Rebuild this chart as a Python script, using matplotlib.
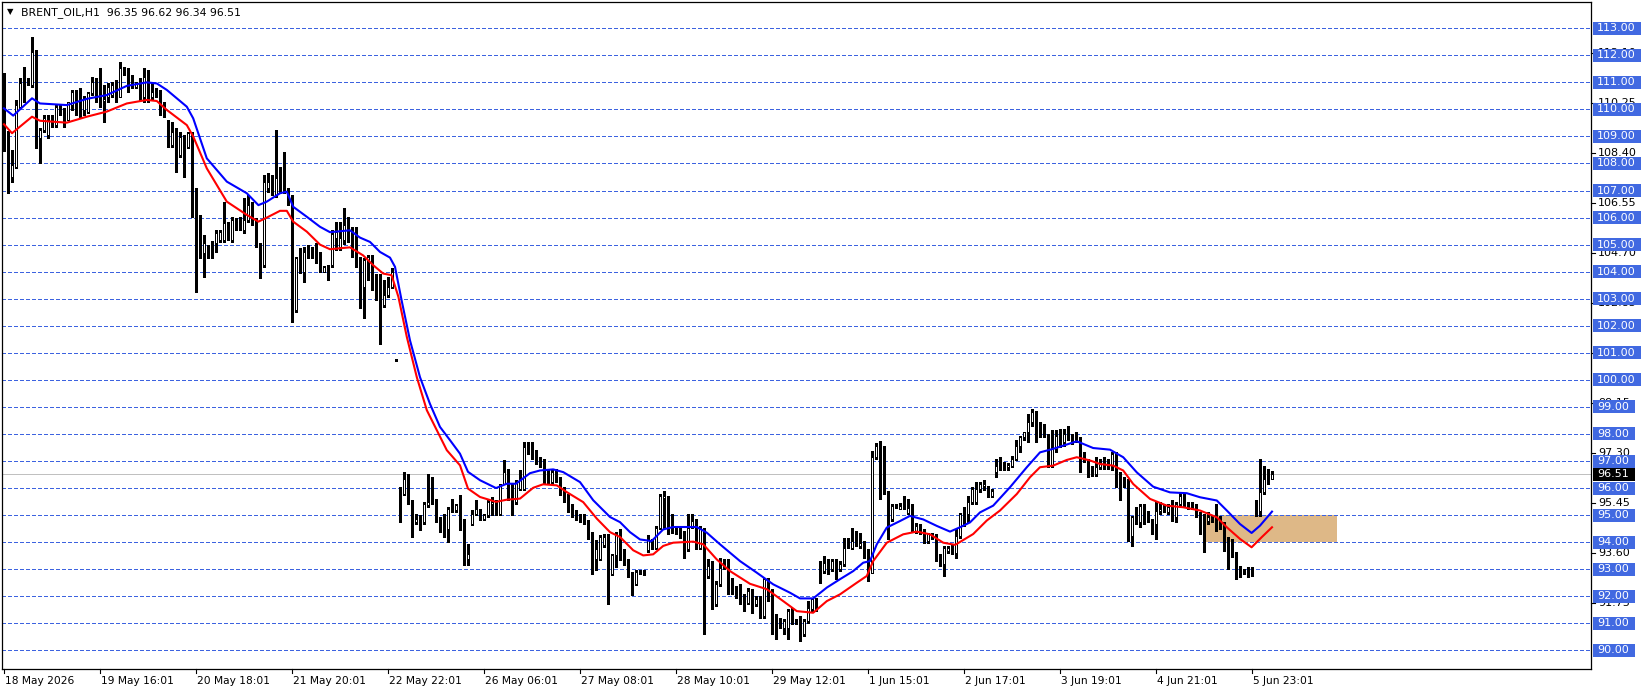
import numpy as np
import matplotlib
matplotlib.use('Agg')
import matplotlib.pyplot as plt
from matplotlib.patches import Rectangle
from matplotlib.transforms import blended_transform_factory

# hourly candles (bar 0 = 18 May 2026)
opens = [
    110.5, 109.1, 107.51, 107.88, 110.1, 110.97, 111.0, 110.9, 112.16, 108.93,
    109.24, 109.05, 109.6, 109.42, 110.1, 109.98, 109.61, 110.16, 110.66, 110.35,
    109.98, 109.92, 110.6, 110.97, 110.72, 110.3, 110.47, 110.53, 110.78, 110.47,
    111.52, 111.4, 110.9, 110.84, 111.03, 110.47, 111.21, 110.47, 110.6, 110.6,
    109.92, 109.55, 108.68, 109.24, 108.31, 108.99, 108.62, 109.12, 106.83, 105.54,
    104.68, 104.99, 105.11, 105.05, 105.17, 105.17, 105.79, 105.17, 105.91, 105.79,
    105.54, 105.91, 106.28, 105.91, 104.99, 104.25, 107.08, 107.39, 106.83, 107.7,
    107.7, 107.02, 106.77, 102.58, 104.49, 104.0, 104.92, 104.86, 104.62, 104.37,
    104.0, 104.2, 104.24, 105.23, 104.92, 105.16, 105.78, 105.35, 105.53, 104.49,
    103.44, 104.42, 104.55, 103.75, 103.07, 102.76, 103.13, 103.44, 100.75, 95.79,
    95.79, 96.41, 95.48, 94.74, 94.87, 94.74, 95.36, 95.48, 95.48, 94.87,
    94.68, 94.5, 95.24, 95.18, 95.36, 94.81, 93.39, 94.68, 95.05, 95.24,
    94.87, 94.99, 95.42, 95.48, 95.05, 96.16, 96.59, 96.16, 95.48, 95.98,
    95.98, 97.52, 97.33, 97.21, 96.96, 96.9, 96.59, 96.22, 96.59, 96.35,
    95.98, 95.73, 95.36, 95.05, 94.99, 94.93, 94.74, 94.31, 93.39, 93.39,
    93.88, 94.25, 92.83, 93.51, 94.31, 93.7, 93.33, 92.77, 92.46, 92.9,
    92.96, 93.7, 93.98, 93.8, 94.54, 95.65, 95.65, 94.97, 94.47, 94.35,
    94.35, 93.73, 94.6, 94.78, 93.8, 94.47, 92.75, 93.24, 91.7, 92.44,
    93.3, 93.3, 92.38, 92.19, 92.16, 91.82, 91.76, 92.19, 91.7, 91.89,
    91.27, 92.63, 91.95, 91.21, 91.08, 90.84, 90.84, 91.45, 91.08, 91.08,
    90.59, 91.08, 91.52, 91.89, 93.0, 92.93, 93.3, 93.0, 93.3, 93.0,
    93.18, 93.82, 93.8, 93.98, 93.86, 93.92, 93.55, 92.87, 97.13, 97.56,
    96.76, 95.83, 94.84, 95.34, 95.21, 95.4, 95.09, 95.21, 94.41, 94.6,
    94.35, 94.04, 94.29, 94.23, 93.49, 93.18, 93.67, 93.8, 93.61, 94.23,
    95.03, 95.04, 95.47, 95.5, 95.97, 96.09, 96.03, 95.72, 96.58, 96.83,
    96.86, 96.77, 96.83, 97.08, 97.57, 97.88, 98.06, 98.43, 98.8, 98.19,
    97.96, 97.94, 96.83, 97.45, 98.0, 97.69, 97.94, 97.94, 97.94, 97.82,
    97.2, 96.95, 96.77, 96.52, 96.77, 96.89, 96.86, 96.83, 97.26, 96.52,
    96.28, 96.28, 94.24, 94.92, 94.73, 95.35, 95.04, 94.8, 94.67, 95.17,
    95.29, 95.1, 95.29, 94.92, 95.41, 95.72, 95.41, 95.29, 95.29, 95.04,
    94.92, 94.8, 94.92, 94.92, 94.92, 94.67, 94.12, 93.81, 93.56, 93.07,
    92.95, 93.01, 93.01, 95.47, 95.17, 95.84, 96.34, 96.35,
]
highs = [
    111.35, 109.2, 108.5, 110.35, 111.15, 111.58, 111.15, 112.69, 112.2, 109.3,
    109.79, 109.8, 109.79, 110.16, 110.16, 110.04, 110.29, 110.72, 110.72, 110.78,
    110.5, 110.66, 111.21, 111.15, 111.52, 110.9, 110.97, 111.0, 111.09, 111.77,
    111.58, 111.52, 111.27, 111.03, 111.15, 111.52, 111.46, 110.97, 110.78, 110.72,
    110.29, 109.61, 109.55, 109.3, 109.18, 109.05, 109.18, 109.18, 107.08, 106.1,
    105.36, 105.0, 105.15, 105.54, 105.55, 106.59, 105.85, 106.03, 105.97, 106.03,
    106.71, 106.83, 106.59, 105.97, 105.05, 107.57, 107.64, 107.57, 109.24, 107.88,
    108.44, 107.08, 106.83, 104.55, 104.86, 104.92, 104.99, 104.92, 105.05, 104.74,
    104.2, 104.25, 105.53, 105.84, 105.84, 106.34, 106.03, 105.66, 105.66, 104.55,
    104.5, 104.61, 104.61, 103.93, 103.93, 103.68, 103.81, 104.12, 100.78, 96.04,
    96.59, 96.53, 95.55, 95.05, 94.99, 95.48, 96.53, 96.41, 95.61, 94.93,
    95.05, 95.3, 95.61, 95.42, 95.73, 94.87, 93.94, 95.18, 95.55, 95.24,
    95.05, 95.55, 95.67, 95.55, 96.16, 97.03, 96.72, 96.16, 96.29, 96.66,
    97.7, 97.7, 97.7, 97.4, 97.15, 97.09, 96.66, 96.66, 96.72, 96.41,
    96.04, 95.79, 95.42, 95.18, 95.05, 95.05, 94.81, 94.37, 94.07, 94.25,
    94.31, 94.31, 93.57, 94.37, 94.5, 93.76, 93.39, 92.9, 92.96, 92.96,
    92.96, 94.25, 94.1, 94.6, 95.77, 95.89, 95.71, 95.03, 94.54, 94.54,
    94.41, 95.03, 95.03, 94.84, 94.6, 94.54, 93.36, 93.3, 92.56, 93.43,
    93.36, 93.36, 92.69, 92.38, 92.44, 92.07, 92.32, 92.26, 92.01, 92.01,
    92.69, 92.69, 92.26, 91.33, 91.21, 91.15, 91.52, 91.58, 91.15, 91.27,
    91.15, 91.82, 91.95, 91.95, 93.3, 93.49, 93.36, 93.36, 93.36, 93.3,
    94.17, 94.17, 94.54, 94.41, 94.35, 94.04, 93.73, 97.37, 97.68, 97.74,
    97.56, 95.89, 95.4, 95.4, 95.46, 95.71, 95.58, 95.4, 94.72, 94.66,
    94.47, 94.35, 94.35, 94.29, 93.55, 93.86, 93.86, 93.92, 94.47, 95.09,
    95.3, 95.72, 96.03, 96.21, 96.21, 96.28, 96.09, 95.97, 97.08, 97.14,
    96.95, 96.92, 97.2, 97.76, 97.94, 98.06, 98.74, 98.93, 98.86, 98.43,
    98.37, 98.0, 98.13, 98.13, 98.19, 98.19, 98.31, 98.0, 98.06, 97.88,
    97.32, 97.08, 96.83, 97.14, 97.08, 97.14, 97.08, 97.32, 97.32, 96.58,
    96.4, 96.34, 94.98, 95.29, 95.41, 95.41, 95.17, 94.86, 95.47, 95.47,
    95.41, 95.41, 95.54, 95.47, 95.84, 95.78, 95.47, 95.47, 95.41, 95.1,
    95.04, 95.1, 94.98, 95.41, 94.98, 94.73, 94.18, 94.12, 93.63, 93.13,
    93.01, 93.07, 93.07, 95.54, 97.08, 96.83, 96.71, 96.62,
]
lows = [
    108.45, 106.9, 107.33, 107.82, 110.04, 110.29, 110.9, 110.84, 108.56, 108.01,
    109.18, 108.95, 109.36, 109.36, 109.8, 109.36, 109.61, 109.98, 109.79, 109.73,
    109.79, 109.86, 110.53, 110.29, 110.1, 109.55, 110.29, 110.47, 110.29, 110.47,
    111.27, 110.66, 110.78, 110.78, 110.35, 110.29, 110.29, 110.35, 110.47, 109.79,
    109.73, 108.62, 108.62, 107.7, 108.25, 107.51, 108.56, 106.03, 103.26, 104.49,
    103.81, 104.49, 104.49, 104.74, 105.1, 105.11, 105.17, 105.11, 105.54, 105.54,
    105.42, 105.85, 105.72, 104.92, 103.75, 104.18, 106.96, 106.83, 106.77, 106.9,
    106.9, 106.46, 102.15, 102.52, 103.94, 103.63, 104.5, 104.5, 104.31, 104.0,
    104.0, 103.69, 104.18, 104.79, 104.79, 105.04, 105.1, 104.55, 104.18, 102.64,
    102.27, 103.68, 103.31, 102.94, 101.34, 102.7, 103.07, 103.38, 100.7, 94.74,
    95.73, 95.42, 94.19, 94.68, 94.44, 94.68, 95.3, 95.42, 94.74, 94.37,
    94.19, 94.0, 95.11, 95.11, 94.44, 93.14, 93.14, 94.62, 94.99, 94.81,
    94.81, 94.93, 94.99, 94.99, 94.99, 96.16, 95.55, 94.99, 95.42, 95.92,
    95.92, 97.27, 97.09, 96.9, 96.78, 96.16, 96.16, 96.16, 96.22, 95.73,
    95.48, 95.11, 94.93, 94.81, 94.74, 94.68, 94.13, 92.83, 92.96, 93.33,
    93.82, 91.72, 92.77, 93.08, 93.33, 93.14, 92.71, 92.03, 92.4, 92.83,
    92.77, 93.64, 93.73, 93.73, 94.47, 94.54, 94.29, 94.35, 94.29, 94.17,
    93.43, 93.67, 94.54, 93.73, 93.73, 90.59, 92.69, 91.52, 91.64, 92.38,
    93.0, 92.07, 92.07, 91.95, 91.7, 91.45, 91.7, 91.39, 91.64, 91.21,
    91.21, 91.82, 90.59, 90.41, 90.84, 90.59, 90.41, 90.96, 90.96, 90.34,
    90.53, 91.02, 91.45, 91.45, 92.5, 92.87, 92.81, 92.93, 92.63, 92.93,
    93.12, 93.8, 93.73, 93.86, 93.8, 93.43, 92.56, 92.87, 97.07, 95.58,
    95.77, 94.1, 94.78, 95.28, 95.21, 95.21, 95.03, 94.41, 94.35, 94.29,
    93.98, 93.98, 94.1, 93.3, 93.12, 92.75, 93.61, 93.55, 93.43, 94.17,
    94.6, 94.73, 95.41, 95.41, 95.84, 95.91, 95.66, 95.66, 96.4, 96.65,
    96.65, 96.65, 96.77, 97.02, 97.32, 97.76, 97.69, 98.31, 97.69, 97.88,
    97.88, 96.77, 96.77, 97.32, 97.51, 97.57, 97.76, 97.63, 97.69, 96.58,
    96.95, 96.4, 96.46, 96.46, 96.71, 96.71, 96.71, 96.65, 96.03, 95.54,
    96.03, 94.06, 93.87, 94.67, 94.55, 94.67, 94.73, 94.3, 94.12, 95.04,
    95.1, 95.04, 94.8, 94.73, 95.35, 95.35, 95.23, 95.23, 94.92, 94.3,
    93.63, 94.67, 94.73, 94.43, 94.49, 93.69, 93.01, 93.44, 92.64, 92.7,
    92.82, 92.7, 92.76, 94.98, 94.98, 95.78, 96.15, 96.34,
]
closes = [
    109.05, 107.5, 107.94, 110.16, 110.97, 111.03, 111.03, 112.14, 108.93, 109.24,
    109.67, 109.61, 109.45, 110.1, 109.86, 109.67, 110.29, 110.66, 110.1, 110.1,
    110.41, 110.6, 111.03, 110.35, 110.16, 110.4, 110.84, 110.9, 110.47, 111.52,
    111.34, 110.72, 110.95, 110.97, 110.41, 111.21, 110.41, 110.66, 110.5, 109.86,
    109.79, 108.68, 109.18, 108.31, 108.99, 108.62, 109.12, 106.83, 105.54, 104.68,
    105.05, 104.55, 104.55, 105.42, 105.48, 105.79, 105.17, 105.91, 105.72, 105.6,
    105.91, 106.46, 105.85, 104.92, 104.25, 107.33, 107.33, 106.9, 107.45, 106.96,
    106.96, 106.59, 102.52, 104.49, 104.0, 104.74, 104.62, 104.62, 104.31, 104.06,
    104.18, 104.22, 105.41, 105.47, 105.23, 105.72, 105.23, 105.23, 104.42, 103.44,
    104.42, 104.55, 103.68, 103.07, 102.76, 103.13, 103.44, 103.99, 100.73, 95.73,
    96.35, 95.48, 94.74, 94.87, 94.74, 95.42, 95.48, 95.45, 94.81, 94.68,
    94.5, 95.24, 95.18, 95.36, 94.81, 93.33, 93.57, 95.05, 95.24, 94.93,
    94.99, 95.48, 95.48, 95.05, 96.16, 96.59, 95.61, 95.55, 96.22, 96.29,
    97.52, 97.33, 97.15, 96.96, 96.84, 96.22, 96.22, 96.59, 96.29, 95.79,
    95.67, 95.36, 95.05, 94.87, 94.87, 94.74, 94.25, 93.39, 93.76, 94.19,
    94.19, 92.77, 93.51, 94.31, 93.39, 93.33, 92.77, 92.4, 92.9, 92.88,
    92.83, 94.07, 93.8, 94.54, 95.71, 95.71, 94.35, 94.41, 94.35, 94.29,
    93.8, 94.54, 94.78, 94.35, 94.47, 92.75, 93.12, 91.7, 92.44, 93.06,
    93.06, 92.13, 92.13, 92.15, 91.76, 91.8, 92.19, 91.45, 91.89, 91.33,
    92.63, 91.95, 91.21, 91.08, 91.02, 91.08, 91.45, 91.02, 91.02, 90.59,
    91.08, 91.58, 91.89, 91.82, 92.87, 93.24, 93.0, 93.3, 93.0, 93.18,
    93.8, 93.86, 94.04, 94.0, 93.98, 93.49, 92.93, 97.13, 97.56, 96.76,
    95.83, 94.84, 95.34, 95.36, 95.34, 95.28, 95.28, 94.47, 94.6, 94.35,
    94.04, 94.29, 94.17, 93.43, 93.18, 93.8, 93.8, 93.61, 94.23, 95.03,
    94.84, 95.47, 95.97, 95.97, 96.15, 96.15, 95.72, 95.88, 96.83, 96.86,
    96.77, 96.86, 97.08, 97.57, 97.88, 98.06, 98.43, 98.8, 98.19, 97.94,
    97.9, 96.83, 97.45, 97.94, 97.57, 98.0, 97.82, 97.69, 97.82, 97.69,
    97.02, 96.71, 96.52, 96.77, 96.89, 96.77, 96.77, 97.26, 96.52, 96.21,
    96.21, 94.18, 94.92, 94.8, 95.35, 94.8, 94.8, 94.61, 95.17, 95.23,
    95.17, 95.29, 94.92, 95.41, 95.72, 95.41, 95.29, 95.35, 95.04, 94.92,
    94.8, 94.92, 94.8, 94.8, 94.55, 93.75, 93.75, 93.5, 93.13, 92.95,
    92.89, 92.95, 92.82, 95.17, 95.84, 96.34, 96.35, 96.51,
]

# moving averages (blue / red), sampled along the bars
ma_blue_x = [0, 2.3, 7, 9, 15.7, 20.7, 25.7, 30.7, 35.7, 38.2, 40.7, 45.7, 47.3, 50.7, 55.7,
             60.7, 63.6, 65.7, 69, 70.7, 72.3, 75.7, 79, 81.5, 86.5, 89, 91.5, 94, 96.5, 97.75,
             99.4, 101.5, 104, 106.5, 109, 111.5, 114, 116, 119, 123, 125.7, 128, 131.5, 134,
             137.3, 139.8, 144, 147.3, 151.5, 154, 156.5, 159, 161.9, 164.8, 167.3, 173.2,
             175.7, 179, 184, 188.2, 192.3, 196.5, 199, 202.3, 205.7, 209, 212.3, 214.8, 216.5,
             218.2, 220.7, 224, 226.5, 229.8, 233.2, 236.5, 239, 241.5, 244, 247.3, 251.5,
             255.7, 259, 262.3, 265.7, 268.2, 272.3, 276.5, 279.8, 283.2, 287.3, 291.5, 295.7,
             299, 303.2, 305.7, 309, 311.9, 314, 317]
ma_blue = [110.04, 109.77, 110.41, 110.22, 110.16, 110.39, 110.53, 110.87, 111.0, 110.96,
           110.72, 110.1, 109.67, 108.19, 107.33, 106.9, 106.46, 106.59, 106.9, 106.96,
           106.4, 106.03, 105.66, 105.46, 105.53, 105.26, 105.1, 104.73, 104.52, 104.18,
           102.94, 101.46, 100.1, 99.11, 98.26, 97.77, 97.27, 96.6, 96.29, 96.0,
           96.16, 96.16, 96.55, 96.65, 96.69, 96.59, 96.22, 95.55, 94.93, 94.74,
           94.37, 94.1, 94.04, 94.47, 94.56, 94.56, 94.35, 93.92, 93.3, 92.87,
           92.44, 92.13, 91.92, 91.92, 92.32, 92.63, 92.93, 93.24, 93.3, 93.92,
           94.54, 94.78, 94.97, 94.84, 94.6, 94.39, 94.55, 94.73, 95.1, 95.35,
           96.03, 96.77, 97.32, 97.45, 97.61, 97.73, 97.48, 97.42, 97.14, 96.58,
           96.05, 95.84, 95.81, 95.66, 95.54, 95.17, 94.67, 94.34, 94.61, 95.13]
ma_red_x = [0, 2, 7, 9, 15.7, 20.7, 25.7, 30.7, 35.7, 38.2, 40.7, 45.7, 47.3, 50.7, 55.7,
            60.7, 63.6, 65.7, 69, 70.7, 72.3, 75.7, 79, 81.5, 86.5, 89.8, 92.3, 94.8, 96.9, 98.6,
            100.7, 103.2, 105.7, 108.2, 110.7, 114, 116, 119, 123, 125.7, 129, 132.3, 134.8,
            138.2, 140.7, 144.8, 148.2, 151.5, 154, 157.3, 159.8, 162.3, 164.8, 167.3, 172.3,
            174.8, 178.2, 181.5, 186.5, 190.7, 194.8, 198.2, 202.3, 205.7, 209, 213.2, 215.7,
            217.3, 220.7, 224.8, 228.2, 231.5, 234.8, 237.8, 242.3, 245.7, 249, 253.2, 256.5,
            259, 262.3, 265.7, 268.2, 271.5, 274, 277.3, 279.8, 282.3, 286.5, 290.7, 294.8,
            299, 303.2, 305.7, 309, 311.9, 314.4, 317]
ma_red = [109.45, 109.12, 109.73, 109.58, 109.51, 109.73, 109.92, 110.22, 110.35, 110.31,
          109.98, 109.42, 109.0, 107.82, 106.59, 106.1, 105.85, 106.0, 106.25, 106.25,
          105.85, 105.48, 105.0, 104.83, 104.9, 104.6, 104.24, 103.93, 103.87, 103.07,
          101.59, 100.1, 98.88, 98.14, 97.4, 96.84, 95.98, 95.67, 95.49, 95.57,
          95.61, 96.01, 96.14, 96.1, 95.85, 95.48, 94.87, 94.37, 94.19, 93.7,
          93.51, 93.55, 93.86, 93.98, 94.02, 93.92, 93.36, 92.93, 92.46, 92.26,
          91.82, 91.45, 91.39, 91.82, 92.07, 92.5, 92.75, 93.3, 93.98, 94.29,
          94.39, 94.29, 93.98, 93.9, 94.3, 94.8, 95.17, 95.78, 96.4, 96.77,
          96.83, 97.04, 97.14, 97.02, 96.89, 96.83, 96.65, 96.15, 95.6, 95.35,
          95.29, 95.17, 94.92, 94.55, 94.12, 93.81, 94.18, 94.55]

levels = list(range(90, 114))
scale_ticks = [91.75, 93.60, 95.45, 97.30, 99.15, 101.00, 102.85, 104.70, 106.55, 108.40, 110.25, 112.10]
date_bars = [0, 24, 48, 72, 96, 120, 144, 168, 192, 216, 240, 264, 288, 312]
date_labels = ['18 May 2026', '19 May 16:01', '20 May 18:01', '21 May 20:01', '22 May 22:01',
               '26 May 06:01', '27 May 08:01', '28 May 10:01', '29 May 12:01', '1 Jun 15:01',
               '2 Jun 17:01', '3 Jun 19:01', '4 Jun 21:01', '5 Jun 23:01']
last_price = 96.51
zone_bars = (299.75, 333.25)
zone_prices = (94.0, 95.0)
header = 'BRENT_OIL,H1  96.35 96.62 96.34 96.51'

assert len(opens) == len(highs) == len(lows) == len(closes)

W, H = 1641, 693
fig = plt.figure(figsize=(W / 100, H / 100), dpi=100)
ax = fig.add_axes([2.3 / W, (H - 669) / H, (1591 - 2.3) / W, (669 - 2.3) / H])
ax.set_xlim(-0.425, 396.75)
ax.set_ylim(89.31, 113.96)
ax.set_xticks([])
ax.set_yticks([])
for s in ax.spines.values():
    s.set_color('black')
    s.set_linewidth(0.9)

# zone box
ax.add_patch(Rectangle((zone_bars[0], zone_prices[0]), zone_bars[1] - zone_bars[0],
                       zone_prices[1] - zone_prices[0], facecolor='#DEB887',
                       edgecolor='none', zorder=1))

# dashed price levels + current price line
for lv in levels:
    ax.axhline(lv, color='#3D63E0', lw=0.8, dashes=(3, 2), zorder=2, antialiased=False)
ax.axhline(last_price, color='#C0C0C0', lw=0.7, zorder=2, antialiased=False)

# candles
o = np.array(opens)
h = np.array(highs)
l = np.array(lows)
c = np.array(closes)
x = np.arange(len(o))
ax.vlines(x, l, h, color='black', lw=0.75, zorder=3, antialiased=False)
bull = c >= o
ax.bar(x, np.maximum(np.abs(c - o), 0.015), bottom=np.minimum(o, c), width=0.7,
       color=np.where(bull, 'white', 'black'), edgecolor='black', linewidth=0.7,
       zorder=4, antialiased=False)

# moving averages
ax.plot(ma_blue_x, ma_blue, color='#0000FF', lw=1.5, zorder=5)
ax.plot(ma_red_x, ma_red, color='#FF0000', lw=1.5, zorder=5)

# right price scale
ty = blended_transform_factory(fig.transFigure, ax.transData)
for v in scale_ticks:
    ax.plot([1591 / W, 1595 / W], [v, v], transform=ty, color='black', lw=0.8, clip_on=False)
    ax.text(1598 / W, v, f'{v:.2f}', transform=ty, ha='left', va='center',
            fontsize=8, color='black', clip_on=False)

half = 6.5 / 27.04
for lv in levels:
    lab = f'{lv:.2f}'
    wpx = 6 * len(lab) + 12
    ax.add_patch(Rectangle((1593 / W, lv - half), wpx / W, 2 * half, transform=ty,
                           facecolor='#4169E1', edgecolor='none', clip_on=False, zorder=10))
    ax.text(1597 / W, lv, lab, transform=ty, ha='left', va='center', fontsize=8,
            color='white', clip_on=False, zorder=11)
lab = f'{last_price:.2f}'
ax.add_patch(Rectangle((1593 / W, last_price - half), (6 * len(lab) + 12) / W, 2 * half,
                       transform=ty, facecolor='black', edgecolor='none', clip_on=False, zorder=12))
ax.text(1597 / W, last_price, lab, transform=ty, ha='left', va='center', fontsize=8,
        color='white', clip_on=False, zorder=13)

# time axis
tx = blended_transform_factory(ax.transData, fig.transFigure)
for b, t in zip(date_bars, date_labels):
    ax.plot([b, b], [(H - 669) / H, (H - 673) / H], transform=tx, color='black', lw=0.8,
            clip_on=False)
    ax.text(b + 0.2, (H - 681) / H, t, transform=tx, ha='left', va='center',
            fontsize=7.7, color='black', clip_on=False)

# header
fig.text(7 / W, 1 - 12 / H, '\u25bc', fontsize=6, va='center', ha='left', color='black')
fig.text(21 / W, 1 - 13 / H, header, fontsize=7.8, va='center', ha='left', color='black')

fig.savefig('out.png', dpi=100)
